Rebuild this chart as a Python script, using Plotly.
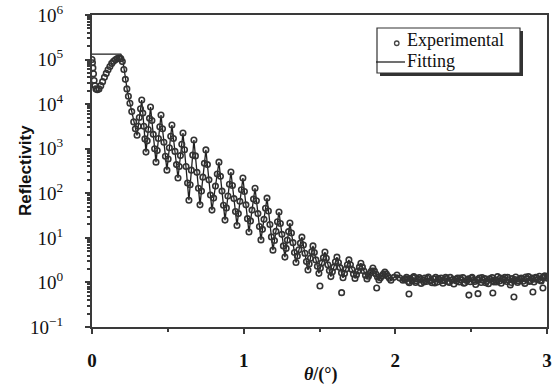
import plotly.graph_objects as go

# ---------------- data ----------------
exp_theta = [
    0.000, 0.003, 0.006, 0.010, 0.014, 0.019, 0.026, 0.035, 0.046, 0.058,
    0.070, 0.082, 0.094, 0.106, 0.118, 0.130, 0.142, 0.154, 0.166, 0.178,
    0.190, 0.200, 0.210, 0.220, 0.230, 0.240, 0.250, 0.262, 0.275, 0.286,
    0.297, 0.312, 0.328, 0.342, 0.356, 0.371, 0.386, 0.404, 0.422, 0.438,
    0.455, 0.474, 0.494, 0.510, 0.527, 0.547, 0.567, 0.583, 0.600, 0.620,
    0.639, 0.655, 0.672, 0.692, 0.712, 0.731, 0.751, 0.771, 0.791, 0.814,
    0.837, 0.857, 0.877, 0.896, 0.916, 0.936, 0.956, 0.975, 0.995, 1.015,
    1.035, 1.055, 1.075, 1.094, 1.114, 1.134, 1.154, 1.173, 1.193, 1.213,
    1.233, 1.252, 1.272, 1.288, 1.305, 1.325, 1.345, 1.364, 1.384, 1.404,
    1.424, 1.440, 1.457, 1.476, 1.496, 1.516, 1.536, 1.555, 1.575, 1.595,
    1.615, 1.635, 1.655, 1.675, 1.694, 1.714, 1.734, 1.754, 1.773, 1.793,
    1.813, 1.833, 1.852, 1.872, 1.892, 1.912, 1.931, 1.951, 1.971, 1.991,
    2.011, 2.030, 2.050,
    2.062, 2.074, 2.086, 2.098, 2.110, 2.122, 2.134, 2.146, 2.158, 2.170,
    2.182, 2.194, 2.206, 2.218, 2.230, 2.242, 2.254, 2.266, 2.278, 2.290,
    2.302, 2.314, 2.326, 2.338, 2.350, 2.362, 2.374, 2.386, 2.398, 2.410,
    2.422, 2.434, 2.446, 2.458, 2.470, 2.482, 2.494, 2.506, 2.518, 2.530,
    2.542, 2.554, 2.566, 2.578, 2.590, 2.602, 2.614, 2.626, 2.638, 2.650,
    2.662, 2.674, 2.686, 2.698, 2.710, 2.722, 2.734, 2.746, 2.758, 2.770,
    2.782, 2.794, 2.806, 2.818, 2.830, 2.842, 2.854, 2.866, 2.878, 2.890,
    2.902, 2.914, 2.926, 2.938, 2.950, 2.962, 2.974, 2.986, 2.998,
]
exp_R = [
    1.0e5, 8.5e4, 6.5e4, 4.8e4, 3.4e4, 2.6e4, 2.2e4, 2.1e4, 2.2e4, 2.6e4,
    3.2e4, 4.0e4, 4.9e4, 5.9e4, 7.0e4, 8.2e4, 9.2e4, 9.9e4, 1.05e5, 1.08e5,
    1.05e5, 9.0e4, 6.0e4, 3.6e4, 2.2e4, 1.5e4, 1.05e4, 6.8e3, 4.0e3, 2.8e3,
    2.0e3, 5.0e3, 1.24e4, 3.2e3, 8.4e2, 2.7e3, 8.6e3, 2.1e3, 5.0e2, 1.7e3,
    5.7e3, 1.4e3, 3.3e2, 1.05e3, 3.4e3, 8.7e2, 2.2e2, 7.0e2, 2.25e3, 4.0e2,
    7.0e1, 3.3e2, 1.57e3, 2.95e2, 5.5e1, 2.3e2, 9.4e2, 2.0e2, 4.2e1, 1.45e2,
    5.0e2, 1.12e2, 2.5e1, 8.7e1, 3.0e2, 7.6e1, 1.9e1, 6.6e1, 2.2e2, 5.5e1,
    1.35e1, 4.2e1, 1.3e2, 3.5e1, 9.0, 2.6e1, 7.8e1, 2.0e1, 5.3, 1.4e1,
    3.8e1, 1.2e1, 3.7, 8.9, 2.15e1, 7.8, 2.8, 5.4, 1.04e1, 4.5,
    1.9, 3.5, 6.6, 3.2, 1.6, 2.75, 4.8, 2.5, 1.35, 2.2,
    3.7, 2.15, 1.27, 2.0, 3.2, 1.95, 1.23, 1.8, 2.7, 1.8,
    1.2, 1.6, 2.1, 1.55, 1.14, 1.4, 1.7, 1.38, 1.12, 1.3,
    1.47, 1.25, 1.12,
    1.15, 1.30, 1.05, 1.22, 1.10, 1.35, 1.00, 1.18, 1.28, 0.95,
    1.12, 1.25, 1.05, 1.32, 1.08, 0.98, 1.20, 1.30, 1.02, 1.15,
    1.26, 0.96, 1.10, 1.22, 1.05, 1.30, 1.12, 0.92, 1.18, 1.25,
    1.02, 1.14, 1.28, 0.98, 1.10, 1.20, 1.04, 1.30, 1.12, 0.90,
    1.16, 1.26, 1.00, 1.12, 1.22, 1.06, 0.94, 1.18, 1.28, 1.02,
    1.14, 1.35, 1.08, 0.96, 1.20, 1.30, 1.05, 1.15, 0.88, 1.22,
    1.10, 1.32, 1.00, 1.18, 1.26, 1.06, 0.95, 1.20, 1.35, 1.10,
    1.25, 1.02, 1.30, 1.15, 1.38, 1.08, 1.28, 1.40, 1.25,
]
# further measured points on the fringe flanks
flank_theta = [
    0.305, 0.320, 0.335, 0.349, 0.364, 0.379, 0.395, 0.413,
    0.430, 0.447, 0.465, 0.484, 0.502, 0.519, 0.537, 0.557,
    0.575, 0.592, 0.610, 0.630, 0.647, 0.664, 0.682, 0.702,
    0.722, 0.741, 0.761, 0.781, 0.802, 0.826, 0.847, 0.867,
    0.886, 0.906, 0.926, 0.946, 0.965, 0.985, 1.005, 1.025,
    1.045, 1.065, 1.084, 1.104, 1.124, 1.144, 1.163, 1.183,
    1.203, 1.223, 1.242, 1.262, 1.280, 1.296, 1.315, 1.335,
    1.354, 1.374, 1.394, 1.414, 1.432, 1.449, 1.466, 1.486,
    1.506, 1.526, 1.545, 1.565, 1.585, 1.605, 1.625, 1.645,
    1.665, 1.684, 1.704, 1.724, 1.744, 1.763, 1.783, 1.803,
    1.823, 1.842, 1.862, 1.882, 1.902, 1.921, 1.941, 1.961,
]
flank_R = [
    3.2e3, 7.9e3, 6.3e3, 1.66e3, 1.5e3, 4.8e3, 4.3e3, 1.0e3,
    9.1e2, 3.1e3, 2.8e3, 6.8e2, 5.9e2, 1.9e3, 1.7e3, 4.4e2,
    4.0e2, 1.26e3, 9.5e2, 1.7e2, 1.55e2, 7.2e2, 6.9e2, 1.3e2,
    1.12e2, 4.7e2, 4.4e2, 91, 78, 2.7e2, 2.4e2, 54,
    47, 1.6e2, 1.5e2, 39, 35, 1.2e2, 1.1e2, 27,
    24, 74, 68, 18, 15.5, 46, 40, 10.5,
    8.7, 23, 21, 6.6, 5.8, 13.8, 12.9, 4.7,
    3.9, 7.6, 6.9, 2.95, 2.6, 4.9, 4.7, 2.3,
    2.1, 3.6, 3.5, 1.85, 1.74, 2.9, 2.8, 1.65,
    1.58, 2.5, 2.5, 1.55, 1.48, 2.2, 2.2, 1.45,
    1.38, 1.8, 1.8, 1.32, 1.27, 1.55, 1.55, 1.24,
]
# second row of points in the flat tail
tail_theta = [
    2.068, 2.092, 2.116, 2.140, 2.164, 2.188, 2.212, 2.236, 2.260, 2.284,
    2.308, 2.332, 2.356, 2.380, 2.404, 2.428, 2.452, 2.476, 2.500, 2.524,
    2.548, 2.572, 2.596, 2.620, 2.644, 2.668, 2.692, 2.716, 2.740, 2.764,
    2.788, 2.812, 2.836, 2.860, 2.884, 2.908, 2.932, 2.956, 2.980,
]
tail_R = [
    1.20, 0.98, 1.28, 1.08, 1.16, 1.02, 1.24, 1.12, 0.97, 1.22,
    1.10, 1.30, 1.00, 1.18, 1.08, 1.26, 0.96, 1.15, 1.24, 1.05,
    1.12, 1.28, 0.98, 1.20, 1.10, 1.02, 1.25, 1.12, 1.30, 1.00,
    1.16, 1.08, 1.22, 1.32, 1.05, 1.18, 1.28, 1.12, 1.35,
]
# scattered low points of the measured curve
out_theta = [1.503, 1.646, 1.877, 2.090, 2.485, 2.545, 2.643, 2.782, 2.907, 2.973]
out_R = [0.83, 0.59, 0.75, 0.55, 0.52, 0.56, 0.58, 0.47, 0.61, 0.75]

fit_theta = [
    0.000, 0.190, 0.200, 0.210, 0.222, 0.235, 0.250, 0.265, 0.280,
    0.297, 0.328, 0.356, 0.386, 0.422, 0.455, 0.494, 0.527, 0.567, 0.600,
    0.639, 0.672, 0.712, 0.751, 0.791, 0.837, 0.877, 0.916, 0.956, 0.995,
    1.035, 1.075, 1.114, 1.154, 1.193, 1.233, 1.272, 1.305, 1.345, 1.384,
    1.424, 1.457, 1.496, 1.536, 1.575, 1.615, 1.655, 1.694, 1.734, 1.773,
    1.813, 1.852, 1.892, 1.931, 1.971, 2.011, 2.050,
    2.150, 2.300, 2.450, 2.600, 2.750, 2.900, 3.000,
]
fit_R = [
    1.33e5, 1.33e5, 1.15e5, 6.5e4, 3.2e4, 1.8e4, 1.05e4, 6.0e3, 3.3e3,
    2.0e3, 1.24e4, 8.4e2, 8.6e3, 5.0e2, 5.7e3, 3.3e2, 3.4e3, 2.2e2, 2.25e3,
    7.0e1, 1.57e3, 5.5e1, 9.4e2, 4.2e1, 5.0e2, 2.5e1, 3.0e2, 1.9e1, 2.2e2,
    1.35e1, 1.3e2, 9.0, 7.8e1, 5.3, 3.8e1, 3.7, 2.15e1, 2.8, 1.04e1,
    1.9, 6.6, 1.6, 4.8, 1.35, 3.7, 1.27, 3.2, 1.23, 2.7,
    1.2, 2.1, 1.14, 1.7, 1.12, 1.47, 1.12,
    1.16, 1.12, 1.15, 1.12, 1.15, 1.14, 1.18,
]

x_ticks = [0, 1, 2, 3]
y_exponents = [-1, 0, 1, 2, 3, 4, 5, 6]

# ---------------- figure ----------------
W, H = 556, 388
L, R, T, B = 92, 9, 15, 61
pw, ph = W - L - R, H - T - B

def px(x):
    return (x - L) / pw

def py(y):
    return (H - B - y) / ph

AX = "#3a3a3a"
SERIF = "Liberation Serif"
MK = "#333333"

fig = go.Figure()
fig.add_trace(go.Scatter(
    x=fit_theta, y=fit_R, mode="lines",
    line=dict(color="#1e1e1e", width=1.3), name="Fitting"))
fig.add_trace(go.Scatter(
    x=exp_theta + flank_theta + tail_theta + out_theta,
    y=exp_R + flank_R + tail_R + out_R, mode="markers",
    marker=dict(symbol="circle-open", size=5.5, color=MK,
                line=dict(width=1.6, color=MK)),
    name="Experimental"))

minor_y = [k * 10.0 ** e for e in range(-1, 6) for k in range(2, 10)]

fig.update_layout(
    width=W, height=H,
    margin=dict(l=L, r=R, t=T, b=B, autoexpand=False),
    plot_bgcolor="white", paper_bgcolor="white",
    showlegend=False,
    xaxis=dict(
        range=[0, 3], tickvals=x_ticks,
        ticktext=[f"<b>{v}</b>" for v in x_ticks],
        tickfont=dict(family=SERIF, size=19, color="#111"),
        ticks="outside", ticklen=5, tickwidth=1.5, tickcolor=AX,
        minor=dict(tickvals=[0.5, 1.5, 2.5], ticks="outside", ticklen=3,
                   tickcolor=AX, showgrid=False),
        showline=True, linecolor=AX, linewidth=2, mirror=True,
        showgrid=False, zeroline=False, ticklabelstandoff=10,
        automargin=False,
    ),
    yaxis=dict(
        type="log", range=[-1, 6],
        tickvals=[10.0 ** e for e in y_exponents],
        ticktext=[f"10<sup>{'−1' if e < 0 else e}</sup>" for e in y_exponents],
        tickfont=dict(family=SERIF, size=19, color="#111"),
        ticks="outside", ticklen=5, tickwidth=1.5, tickcolor=AX,
        minor=dict(tickvals=minor_y, ticks="outside", ticklen=3,
                   tickcolor=AX, showgrid=False),
        showline=True, linecolor=AX, linewidth=2, mirror=True,
        showgrid=False, zeroline=False, ticklabelstandoff=18,
        automargin=False,
    ),
)

# hand-built legend with drop shadow
shapes = [
    dict(type="rect", xref="paper", yref="paper",
         x0=px(380), x1=px(523), y0=py(76), y1=py(31),
         fillcolor="#333333", line=dict(width=0), layer="above"),
    dict(type="rect", xref="paper", yref="paper",
         x0=px(377), x1=px(520), y0=py(73), y1=py(28),
         fillcolor="white", line=dict(color="#333333", width=1.2), layer="above"),
    dict(type="line", xref="paper", yref="paper",
         x0=px(376), x1=px(405), y0=py(62), y1=py(62),
         line=dict(color="#222222", width=1.3), layer="above"),
    dict(type="circle", xref="paper", yref="paper",
         x0=px(394.5), x1=px(399), y0=py(45.5), y1=py(41),
         line=dict(color="#444444", width=1.3), layer="above"),
]
annotations = [
    dict(text="Experimental", xref="paper", yref="paper",
         x=px(405), y=py(40), xanchor="left", yanchor="middle",
         showarrow=False, font=dict(family=SERIF, size=18, color="#111")),
    dict(text="Fitting", xref="paper", yref="paper",
         x=px(405), y=py(61), xanchor="left", yanchor="middle",
         showarrow=False, font=dict(family=SERIF, size=18, color="#111")),
    # axis titles
    dict(text="<b><i>θ</i>/(°)</b>", xref="paper", yref="paper",
         x=px(321), y=py(375), xanchor="center", yanchor="middle",
         showarrow=False, font=dict(family=SERIF, size=18, color="#111")),
    dict(text="<b>Reflectivity</b>", xref="paper", yref="paper",
         x=px(25), y=py(171), xanchor="center", yanchor="middle",
         textangle=-90, showarrow=False,
         font=dict(family="Liberation Sans", size=17, color="#111")),
]
fig.update_layout(shapes=shapes, annotations=annotations)

fig.write_html("out.html",
               config={"displayModeBar": False},
               post_script="document.body.style.margin='0';"
                           "document.body.style.overflow='hidden';")
